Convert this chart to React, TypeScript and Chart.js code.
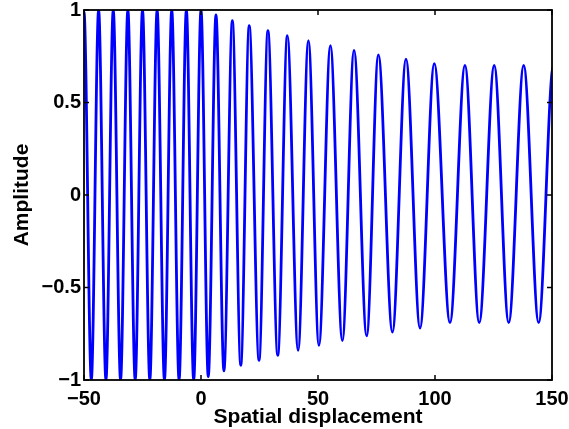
import React, { useEffect, useRef } from "react";
import { Chart, registerables } from "chart.js";

Chart.register(...registerables);

// Crests (local maxima)
const crestX = [-50, -43.75, -37.5, -31.25, -25, -18.75, -12.5, -6.25, 0, 6.4, 13.4, 20.6, 28.6, 36.9, 45.9, 55.3, 65.4, 75.8, 87.6, 99.7, 112.8, 125.3, 137.9, 150.6];
const crestY = [0.99, 1, 1, 1, 1, 1, 1, 1, 1, 0.973, 0.942, 0.915, 0.888, 0.861, 0.834, 0.807, 0.782, 0.757, 0.735, 0.71, 0.7, 0.7, 0.7, 0.7];
// Troughs (local minima) (first and last lie just outside the axes)
const troughX = [-53.125, -46.875, -40.625, -34.375, -28.125, -21.875, -15.625, -9.375, -3.125, 3.1, 9.8, 17.0, 24.8, 32.8, 41.5, 50.4, 60.4, 70.8, 81.8, 93.6, 106.4, 118.9, 131.5, 144.3, 156.9];
const troughY = [-1, -1, -1, -1, -1, -1, -1, -1, -1, -0.982, -0.951, -0.921, -0.894, -0.867, -0.84, -0.813, -0.787, -0.762, -0.741, -0.719, -0.69, -0.69, -0.69, -0.69, -0.69];

const xTickValues = [-50, 0, 50, 100, 150];
const xTickLabels = ["\u221250", "0", "50", "100", "150"];
const yTickValues = [-1, -0.5, 0, 0.5, 1];
const yTickLabels = ["\u22121", "\u22120.5", "0", "0.5", "1"];

const xTitle = "Spatial displacement";
const yTitle = "Amplitude";

const FONT = "'Liberation Sans', Arial, Helvetica, sans-serif";

const boxPlugin = {
  id: "matlabBox",
  afterDraw(chart: any) {
    const { ctx, chartArea } = chart;
    const xs = chart.scales.x;
    const ys = chart.scales.y;
    const { left, right, top, bottom } = chartArea;
    const tl = 5;
    ctx.save();
    ctx.strokeStyle = "#000";
    ctx.lineWidth = 1.5;
    ctx.beginPath();
    for (const v of xTickValues) {
      const px = xs.getPixelForValue(v);
      ctx.moveTo(px, bottom);
      ctx.lineTo(px, bottom - tl);
      ctx.moveTo(px, top);
      ctx.lineTo(px, top + tl);
    }
    for (const v of yTickValues) {
      const py = ys.getPixelForValue(v);
      ctx.moveTo(left, py);
      ctx.lineTo(left + tl, py);
      ctx.moveTo(right, py);
      ctx.lineTo(right - tl, py);
    }
    ctx.stroke();
    ctx.lineWidth = 1.8;
    ctx.strokeRect(left, top, right - left, bottom - top);
    ctx.restore();
  },
};

export default function App() {
  const ref = useRef<HTMLCanvasElement>(null);

  useEffect(() => {
    const pts: { x: number; y: number }[] = [];
    crestX.forEach((x, i) => pts.push({ x, y: crestY[i] }));
    troughX.forEach((x, i) => pts.push({ x, y: troughY[i] }));
    pts.sort((a, b) => a.x - b.x);

    const chart = new Chart(ref.current!, {
      type: "line",
      data: {
        datasets: [
          {
            data: pts,
            borderColor: "#0000ff",
            borderWidth: 2.8,
            pointRadius: 0,
            cubicInterpolationMode: "monotone",
            fill: false,
            clip: 0,
          },
        ],
      },
      options: {
        responsive: false,
        animation: false,
        layout: { padding: { top: 10, right: 17, left: 0, bottom: 0 } },
        plugins: { legend: { display: false }, tooltip: { enabled: false } },
        scales: {
          x: {
            type: "linear",
            min: -50,
            max: 150,
            grid: { display: false, drawTicks: false },
            border: { display: false },
            afterBuildTicks: (s: any) => {
              s.ticks = xTickValues.map((v) => ({ value: v }));
            },
            afterFit: (s: any) => {
              s.height = 49;
              s.paddingLeft = 0;
              s.paddingRight = 0;
            },
            ticks: {
              padding: 7,
              color: "#000",
              maxRotation: 0,
              font: { family: FONT, size: 20, weight: "bold" },
              callback: (v: any) => {
                const i = xTickValues.indexOf(Number(v));
                return i >= 0 ? xTickLabels[i] : "";
              },
            },
            title: {
              display: true,
              text: xTitle,
              color: "#000",
              font: { family: FONT, size: 21, weight: "bold" },
              padding: { top: 0, bottom: -1 },
            },
          },
          y: {
            type: "linear",
            min: -1,
            max: 1,
            grid: { display: false, drawTicks: false },
            border: { display: false },
            afterBuildTicks: (s: any) => {
              s.ticks = yTickValues.map((v) => ({ value: v }));
            },
            afterFit: (s: any) => {
              s.width = 84;
              s.paddingTop = 0;
              s.paddingBottom = 0;
            },
            ticks: {
              padding: 3,
              color: "#000",
              font: { family: FONT, size: 20, weight: "bold" },
              callback: (v: any) => {
                const i = yTickValues.indexOf(Number(v));
                return i >= 0 ? yTickLabels[i] : "";
              },
            },
            title: {
              display: true,
              text: yTitle,
              color: "#000",
              font: { family: FONT, size: 21, weight: "bold" },
              padding: { top: 10, bottom: 0 },
            },
          },
        },
      },
      plugins: [boxPlugin],
    });
    return () => chart.destroy();
  }, []);

  return (
    <div style={{ position: "absolute", left: 0, top: 0, width: 569, height: 429, background: "#fff" }}>
      <canvas ref={ref} width={569} height={429} />
    </div>
  );
}
